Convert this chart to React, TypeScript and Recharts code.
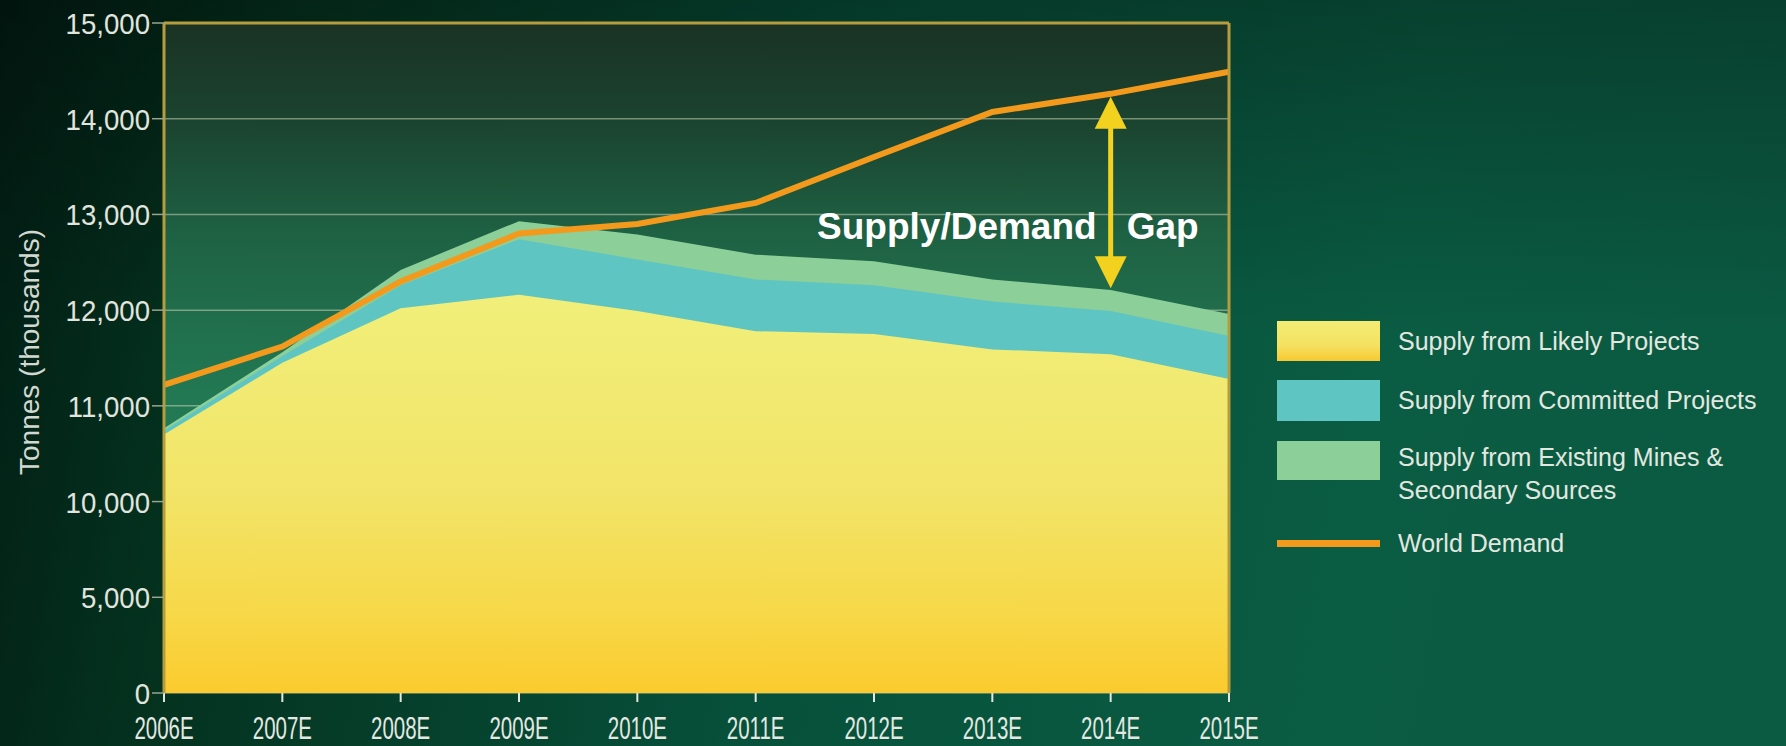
import {
  ComposedChart,
  Area,
  Line,
  XAxis,
  YAxis,
  CartesianGrid,
  ReferenceLine,
  ReferenceDot,
  Legend,
  Label,
} from 'recharts';

const years = ['2006E', '2007E', '2008E', '2009E', '2010E', '2011E', '2012E', '2013E', '2014E', '2015E'];
// thousand tonnes per year
const likelyProjects = [10700, 11450, 12020, 12160, 11990, 11780, 11750, 11590, 11540, 11280];
const committedProjects = [40, 70, 240, 580, 540, 540, 510, 500, 450, 450];
const existingMines = [25, 40, 160, 190, 260, 260, 250, 230, 220, 230];
const worldDemand = [11220, 11620, 12300, 12800, 12900, 13120, 13600, 14070, 14260, 14490];

const yTickValues = [0, 5000, 10000, 11000, 12000, 13000, 14000, 15000];
const seriesNames = [
  ['Supply from Likely Projects'],
  ['Supply from Committed Projects'],
  ['Supply from Existing Mines &', 'Secondary Sources'],
  ['World Demand'],
];

// gap annotation
const gapYear = '2014E';
const gapTop = 14230;
const gapBottom = 12230;
const gapLabelAt = 12870;

const GOLD = '#b59d3f';
const ORANGE = '#f39a1d';
const TEAL = '#5ec5c2';
const LIGHT_GREEN = '#8ccf98';
const ARROW = '#f2d21e';
const FONT = '"Liberation Sans", Arial, sans-serif';

// the value axis is broken: 0..10,000 takes two steps, then one step per 1,000
const toAxis = (v: number) => (v <= 10000 ? v / 5000 : 2 + (v - 10000) / 1000);

const data = years.map((year, i) => {
  const likely = likelyProjects[i];
  const committed = likely + committedProjects[i];
  const existing = committed + existingMines[i];
  return {
    year,
    likely: toAxis(likely),
    committed: toAxis(committed),
    existing: toAxis(existing),
    demand: toAxis(worldDemand[i]),
  };
});

function YearTick({ x, y, payload }: any) {
  return (
    <text
      transform={`translate(${x},${y + 35}) scale(0.66,1)`}
      textAnchor="middle"
      fill="#e4e8e2"
      fontSize={31}
      fontFamily={FONT}
    >
      {payload.value}
    </text>
  );
}

function ValueTick({ x, y, payload }: any) {
  const label = yTickValues[payload.value]?.toLocaleString('en-US');
  return (
    <text
      transform={`translate(${x},${y + 11}) scale(0.92,1)`}
      textAnchor="end"
      fill="#e0e5de"
      fontSize={30}
      fontFamily={FONT}
    >
      {label}
    </text>
  );
}

function GapArrow(props: any) {
  const x = props.x1;
  const top = Math.min(props.y1, props.y2);
  const bottom = Math.max(props.y1, props.y2);
  const head = 32;
  const half = 16;
  return (
    <g>
      <line x1={x} x2={x} y1={top + head - 2} y2={bottom - head + 2} stroke={ARROW} strokeWidth={5} />
      <polygon points={`${x},${top} ${x - half},${top + head} ${x + half},${top + head}`} fill={ARROW} />
      <polygon points={`${x},${bottom} ${x - half},${bottom - head} ${x + half},${bottom - head}`} fill={ARROW} />
    </g>
  );
}

function GapText({ cx, cy }: any) {
  const style = { fill: '#ffffff', fontSize: 37, fontWeight: 700, fontFamily: FONT };
  return (
    <g>
      <text x={cx - 14} y={cy} textAnchor="end" dominantBaseline="central" {...style}>
        Supply/Demand
      </text>
      <text x={cx + 16} y={cy} textAnchor="start" dominantBaseline="central" {...style}>
        Gap
      </text>
    </g>
  );
}

const swatches = [
  'linear-gradient(180deg, #f3ec74 0%, #f4e262 60%, #f8c932 100%)',
  TEAL,
  LIGHT_GREEN,
];

function LegendBox() {
  const text = { color: '#e2e8e0', fontSize: 25, fontFamily: FONT, lineHeight: '33px' };
  return (
    <div style={{ width: 500 }}>
      {seriesNames.slice(0, 3).map((lines, i) => (
        <div key={i} style={{ display: 'flex', alignItems: 'flex-start', marginBottom: i === 1 ? 20 : 19 }}>
          <div style={{ width: 103, height: i === 1 ? 41 : i === 2 ? 39 : 40, background: swatches[i], flexShrink: 0 }} />
          <div style={{ ...text, marginLeft: 18, lineHeight: lines.length > 1 ? '33px' : `${i === 1 ? 41 : 40}px` }}>
            {lines.map((l) => (
              <div key={l}>{l}</div>
            ))}
          </div>
        </div>
      ))}
      <div style={{ display: 'flex', alignItems: 'center', height: 34 }}>
        <div style={{ width: 103, height: 7, background: ORANGE, flexShrink: 0 }} />
        <div style={{ ...text, marginLeft: 18 }}>{seriesNames[3][0]}</div>
      </div>
    </div>
  );
}

export default function App() {
  return (
    <div
      style={{
        position: 'absolute',
        left: 0,
        top: 0,
        width: 1786,
        height: 746,
        overflow: 'hidden',
        background:
          'linear-gradient(180deg, rgba(0,0,0,0.3) 0%, rgba(0,0,0,0) 45%), linear-gradient(100deg, #021d14 0%, #04321f 14%, #07503a 45%, #0a5c42 75%, #0b5a42 100%)',
      }}
    >
      <ComposedChart width={1786} height={746} data={data} margin={{ top: 23, right: 557, bottom: 8, left: 0 }}>
        <defs>
          <linearGradient id="plotBg" x1="0" y1="0" x2="0" y2="1">
            <stop offset="0%" stopColor="#1a3224" />
            <stop offset="15%" stopColor="#1b4430" />
            <stop offset="32%" stopColor="#1e6244" />
            <stop offset="55%" stopColor="#227853" />
            <stop offset="100%" stopColor="#237f58" />
          </linearGradient>
          <linearGradient id="likelyFill" x1="0" y1="0" x2="0" y2="1">
            <stop offset="0%" stopColor="#f1ef7a" />
            <stop offset="50%" stopColor="#f2e468" />
            <stop offset="80%" stopColor="#f7d848" />
            <stop offset="100%" stopColor="#fbcb2e" />
          </linearGradient>
        </defs>
        <CartesianGrid
          vertical={false}
          fill="url(#plotBg)"
          fillOpacity={1}
          stroke="rgba(200,210,180,0.55)"
          strokeWidth={1.5}
        />
        <XAxis
          dataKey="year"
          scale="point"
          padding={{ left: 0, right: 0 }}
          interval={0}
          axisLine={false}
          tickLine={{ stroke: '#e2e6de', strokeWidth: 2 }}
          tickSize={9}
          height={45}
          tick={<YearTick />}
        />
        <YAxis
          type="number"
          domain={[0, 7]}
          ticks={[0, 1, 2, 3, 4, 5, 6, 7]}
          interval={0}
          width={164}
          axisLine={{ stroke: GOLD, strokeWidth: 3 }}
          tickLine={{ stroke: '#9aa58e', strokeWidth: 1.5 }}
          tickSize={12}
          tick={<ValueTick />}
        >
          <Label
            content={({ viewBox }: any) => {
              const cx = viewBox.x + 29;
              const cy = viewBox.y + viewBox.height / 2 - 6;
              return (
                <text
                  x={cx}
                  y={cy}
                  transform={`rotate(-90 ${cx} ${cy})`}
                  textAnchor="middle"
                  dominantBaseline="central"
                  fill="#d2d9d0"
                  fontSize={28}
                  fontFamily={FONT}
                >
                  Tonnes (thousands)
                </text>
              );
            }}
          />
        </YAxis>
        <Area type="linear" dataKey="existing" fill={LIGHT_GREEN} fillOpacity={1} stroke="none" isAnimationActive={false} />
        <Area type="linear" dataKey="committed" fill={TEAL} fillOpacity={1} stroke="none" isAnimationActive={false} />
        <Area type="linear" dataKey="likely" fill="url(#likelyFill)" fillOpacity={1} stroke="none" isAnimationActive={false} />
        <Line type="linear" dataKey="demand" stroke={ORANGE} strokeWidth={6} dot={false} isAnimationActive={false} />
        <ReferenceLine y={7} stroke={GOLD} strokeWidth={3} />
        <ReferenceLine x="2015E" stroke={GOLD} strokeWidth={3} />
        <ReferenceLine
          segment={[
            { x: gapYear, y: toAxis(gapTop) },
            { x: gapYear, y: toAxis(gapBottom) },
          ]}
          shape={GapArrow}
        />
        <ReferenceDot x={gapYear} y={toAxis(gapLabelAt)} r={0} shape={GapText} />
        <Legend
          layout="vertical"
          align="center"
          verticalAlign="middle"
          wrapperStyle={{ left: 1277, top: 321, width: 500 }}
          content={() => <LegendBox />}
        />
      </ComposedChart>
    </div>
  );
}
